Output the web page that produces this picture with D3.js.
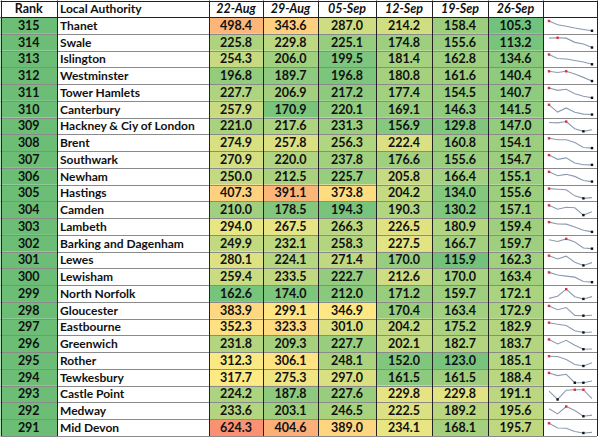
<!DOCTYPE html>
<html>
<head>
<meta charset="utf-8">
<script src="https://cdn.jsdelivr.net/npm/d3@7"></script>
<style>
  body { margin: 0; background: #fff; }
  text { font-family: Lato, "Open Sans", sans-serif; font-weight: bold; fill: #111; }
</style>
</head>
<body>
<div id="table"></div>
<script>
const ranks = [315, 314, 313, 312, 311, 310, 309, 308, 307, 306, 305, 304, 303, 302, 301, 300, 299, 298, 297, 296, 295, 294, 293, 292, 291];
const authorities = ["Thanet", "Swale", "Islington", "Westminster", "Tower Hamlets", "Canterbury",
  "Hackney & Ciy of London", "Brent", "Southwark", "Newham", "Hastings", "Camden", "Lambeth",
  "Barking and Dagenham", "Lewes", "Lewisham", "North Norfolk", "Gloucester", "Eastbourne",
  "Greenwich", "Rother", "Tewkesbury", "Castle Point", "Medway", "Mid Devon"];
const weeks = ["22-Aug", "29-Aug", "05-Sep", "12-Sep", "19-Sep", "26-Sep"];

const aug22 = [498.4, 225.8, 254.3, 196.8, 227.7, 257.9, 221.0, 274.9, 270.9, 250.0, 407.3, 210.0, 294.0, 249.9, 280.1, 259.4, 162.6, 383.9, 352.3, 231.8, 312.3, 317.7, 224.2, 233.6, 624.3];
const aug29 = [343.6, 229.8, 206.0, 189.7, 206.9, 170.9, 217.6, 257.8, 220.0, 212.5, 391.1, 178.5, 267.5, 232.1, 224.1, 233.5, 174.0, 299.1, 323.3, 209.3, 306.1, 275.3, 187.8, 203.1, 404.6];
const sep05 = [287.0, 225.1, 199.5, 196.8, 217.2, 220.1, 231.3, 256.3, 237.8, 225.7, 373.8, 194.3, 266.3, 258.3, 271.4, 222.7, 212.0, 346.9, 301.0, 227.7, 248.1, 297.0, 227.6, 246.5, 389.0];
const sep12 = [214.2, 174.8, 181.4, 180.8, 177.4, 169.1, 156.9, 222.4, 176.6, 205.8, 204.2, 190.3, 226.5, 227.5, 170.0, 212.6, 171.2, 170.4, 204.2, 202.1, 152.0, 161.5, 229.8, 222.5, 234.1];
const sep19 = [158.4, 155.6, 162.8, 161.6, 154.5, 146.3, 129.8, 160.8, 155.6, 166.4, 134.0, 130.2, 180.9, 166.7, 115.9, 170.0, 159.7, 163.4, 175.2, 182.7, 123.0, 161.5, 229.8, 189.2, 168.1];
const sep26 = [105.3, 113.2, 134.6, 140.4, 140.7, 141.5, 147.0, 154.1, 154.7, 155.1, 155.6, 157.1, 159.4, 159.7, 162.3, 163.4, 172.1, 172.9, 182.9, 183.7, 185.1, 188.4, 191.1, 195.6, 195.7];

const series = [aug22, aug29, sep05, sep12, sep19, sep26];
const rows = ranks.map((rank, i) => ({
  rank: rank,
  name: authorities[i],
  values: series.map(s => s[i])
}));

const width = 600;
const height = 437;
const headerH = 17;
const fontSize = 12.5;
// column edges: rank, authority, six weeks, sparkline
const edges = [0.5, 57, 209, 263, 318, 376, 432, 488, 543, 597];

// per-week colour scales (green - yellow - red)
const stops = [[140, 320, 760], [150, 290, 540], [170, 340, 650], [130, 250, 450], [100, 260, 450], [90, 270, 450]];
const colour = stops.map(s => d3.scaleLinear()
  .domain(s)
  .range(["#63BE7B", "#FFEB84", "#F8696B"])
  .clamp(true));

const svg = d3.select("#table")
  .append("svg")
  .attr("width", width)
  .attr("height", height);

const yScale = d3.scaleBand()
  .domain(ranks)
  .range([headerH, height - 1]);

const rowH = yScale.bandwidth();

// header
const header = svg.append("g");
header.append("text")
  .attr("x", (edges[0] + edges[1]) / 2).attr("y", headerH - 4)
  .attr("text-anchor", "middle").attr("font-size", fontSize)
  .text("Rank");
header.append("text")
  .attr("x", edges[1] + 3).attr("y", headerH - 4)
  .attr("font-size", 12)
  .text("Local Authority");
header.selectAll(".week")
  .data(weeks)
  .enter()
  .append("text")
  .attr("class", "week")
  .attr("x", (d, i) => (edges[i + 2] + edges[i + 3]) / 2)
  .attr("y", headerH - 4)
  .attr("text-anchor", "middle")
  .attr("font-size", fontSize)
  .attr("font-style", "italic")
  .text(d => d);

const row = svg.selectAll(".row")
  .data(rows)
  .enter()
  .append("g")
  .attr("class", "row")
  .attr("transform", d => `translate(0, ${yScale(d.rank)})`);

row.append("rect")
  .attr("x", edges[0]).attr("width", edges[1] - edges[0])
  .attr("height", rowH)
  .attr("fill", "#6CBE77");

row.append("text")
  .attr("x", (edges[0] + edges[1]) / 2)
  .attr("y", rowH - 4)
  .attr("text-anchor", "middle")
  .attr("font-size", fontSize)
  .text(d => d.rank);

row.append("text")
  .attr("x", edges[1] + 3)
  .attr("y", rowH - 4)
  .attr("font-size", 12)
  .text(d => d.name);

row.selectAll(".cell")
  .data(d => d.values)
  .enter()
  .append("rect")
  .attr("class", "cell")
  .attr("x", (d, i) => edges[i + 2])
  .attr("width", (d, i) => edges[i + 3] - edges[i + 2])
  .attr("height", rowH)
  .attr("fill", (d, i) => colour[i](d));

row.selectAll(".val")
  .data(d => d.values)
  .enter()
  .append("text")
  .attr("class", "val")
  .attr("x", (d, i) => (edges[i + 2] + edges[i + 3]) / 2)
  .attr("y", rowH - 4)
  .attr("text-anchor", "middle")
  .attr("font-size", fontSize)
  .text(d => d.toFixed(1));

// sparklines
const xSpark = d3.scalePoint()
  .domain(weeks)
  .range([edges[8] + 6, edges[9] - 5]);

row.each(function(d) {
  const g = d3.select(this);
  const [lo, hi] = d3.extent(d.values);
  const ySpark = d3.scaleLinear().domain([lo, hi]).range([rowH - 3, 4]);
  const pts = d.values.map((v, i) => ({ week: weeks[i], v: v }));
  g.append("path")
    .attr("d", d3.line().x(p => xSpark(p.week)).y(p => ySpark(p.v))(pts))
    .attr("fill", "none")
    .attr("stroke", "#8C9BB0")
    .attr("stroke-width", 1.1);
  g.selectAll(".dot")
    .data(pts.filter(p => p.v === lo || p.v === hi))
    .enter()
    .append("rect")
    .attr("x", p => xSpark(p.week) - 1.2)
    .attr("y", p => ySpark(p.v) - 1.2)
    .attr("width", 2.4).attr("height", 2.4)
    .attr("fill", p => p.v === hi ? "#E0303A" : "#111");
});

// grid lines
const grid = svg.append("g").attr("stroke-width", 1);
grid.selectAll(".h")
  .data([0.5].concat(ranks.map(r => yScale(r))).concat([height - 1]))
  .enter()
  .append("line")
  .attr("x1", edges[0]).attr("x2", edges[9])
  .attr("y1", d => Math.round(d) + 0.5).attr("y2", d => Math.round(d) + 0.5)
  .attr("stroke", (d, i) => i <= 1 ? "#222" : "#8a8a8a");
grid.selectAll(".v")
  .data(edges)
  .enter()
  .append("line")
  .attr("x1", d => Math.round(d) + 0.5).attr("x2", d => Math.round(d) + 0.5)
  .attr("y1", 0.5).attr("y2", height - 1)
  .attr("stroke", "#222");
</script>
</body>
</html>
